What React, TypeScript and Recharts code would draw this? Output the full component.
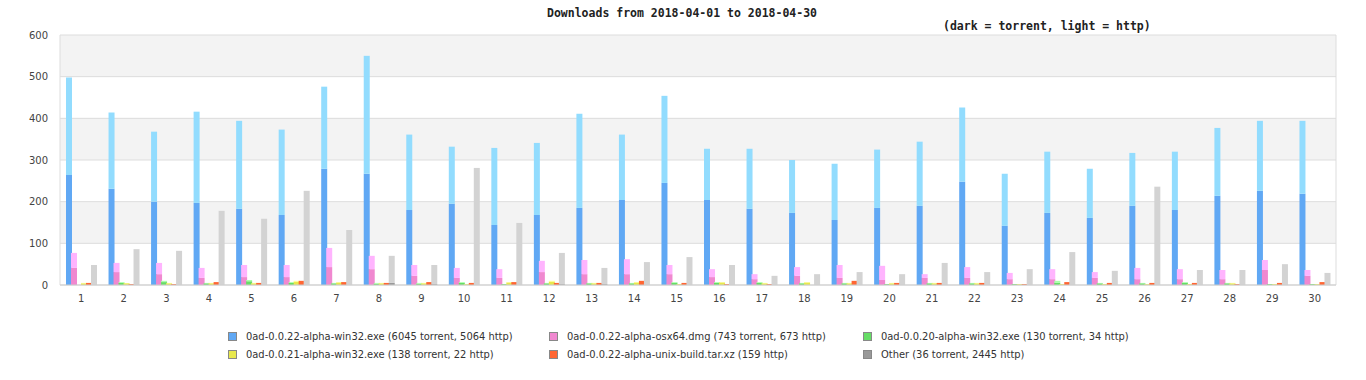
import { Bar, BarChart, CartesianGrid, XAxis, YAxis } from 'recharts'

const days = Array.from({ length: 30 }, (_, i) => String(i + 1))

const blueT = [264, 231, 200, 197, 183, 168, 279, 267, 180, 195, 144, 168, 185, 204, 245, 204, 183, 173, 156, 185, 190, 248, 142, 173, 161, 190, 180, 214, 226, 219]
const blueH = [234, 183, 168, 219, 211, 205, 197, 283, 181, 137, 185, 173, 226, 157, 209, 123, 144, 127, 135, 140, 154, 178, 125, 147, 118, 127, 140, 163, 168, 175]
const pinkT = [41, 31, 26, 17, 19, 19, 43, 38, 22, 17, 17, 31, 26, 26, 26, 19, 14, 22, 17, 12, 17, 17, 14, 14, 17, 14, 14, 14, 36, 22]
const pinkH = [36, 22, 27, 24, 29, 29, 46, 32, 26, 24, 21, 27, 34, 36, 22, 19, 12, 21, 31, 34, 9, 26, 15, 24, 14, 27, 24, 22, 24, 14]
const greenT = [0, 5, 7, 4, 9, 5, 4, 3, 3, 5, 2, 4, 4, 4, 5, 5, 5, 4, 4, 2, 4, 4, 2, 5, 4, 4, 5, 4, 2, 2]
const greenH = [0, 2, 3, 1, 3, 2, 1, 2, 2, 2, 0, 1, 1, 1, 2, 2, 2, 1, 1, 0, 1, 1, 0, 5, 1, 1, 2, 1, 0, 0]
const yellowT = [4, 4, 4, 4, 4, 8, 6, 4, 4, 2, 6, 8, 4, 6, 2, 6, 4, 6, 4, 4, 4, 4, 2, 2, 2, 2, 2, 4, 2, 2]
const yellowH = [1, 1, 1, 1, 1, 2, 1, 1, 1, 0, 1, 2, 1, 1, 0, 1, 1, 1, 1, 1, 1, 1, 0, 0, 0, 0, 0, 1, 0, 0]
const orangeH = [5, 2, 2, 7, 5, 10, 7, 5, 7, 5, 7, 5, 5, 10, 5, 2, 2, 0, 10, 5, 5, 5, 2, 7, 5, 5, 5, 2, 5, 7]
const grayT = [0, 0, 0, 0, 0, 0, 0, 5, 2, 0, 0, 2, 2, 0, 0, 0, 0, 0, 0, 0, 0, 0, 0, 0, 0, 0, 0, 0, 0, 0]
const grayH = [48, 86, 82, 178, 159, 226, 132, 65, 46, 281, 149, 75, 39, 55, 67, 48, 22, 26, 31, 26, 53, 31, 38, 79, 34, 236, 36, 36, 50, 29]

const yTicks = [0, 100, 200, 300, 400, 500, 600]

const series = [
  { key: 'blue', label: '0ad-0.0.22-alpha-win32.exe (6045 torrent, 5064 http)', t: blueT, h: blueH, dark: '#60a8f4', light: '#92dcfe' },
  { key: 'pink', label: '0ad-0.0.22-alpha-osx64.dmg (743 torrent, 673 http)', t: pinkT, h: pinkH, dark: '#f088d0', light: '#ffb4fe' },
  { key: 'green', label: '0ad-0.0.20-alpha-win32.exe (130 torrent, 34 http)', t: greenT, h: greenH, dark: '#66dd66', light: '#aaffaa' },
  { key: 'yellow', label: '0ad-0.0.21-alpha-win32.exe (138 torrent, 22 http)', t: yellowT, h: yellowH, dark: '#e8e84e', light: '#ffff88' },
  { key: 'orange', label: '0ad-0.0.22-alpha-unix-build.tar.xz (159 http)', t: days.map(() => 0), h: orangeH, dark: '#ff6633', light: '#ff6633' },
  { key: 'gray', label: 'Other (36 torrent, 2445 http)', t: grayT, h: grayH, dark: '#999999', light: '#d3d3d3' },
]

const data = days.map((d, i) => {
  const row: { [k: string]: string | number } = { day: d }
  series.forEach((s) => {
    row[s.key + 'T'] = s.t[i]
    row[s.key + 'H'] = s.h[i]
  })
  return row
})

const legendCols = [228, 549, 863]
const legendRows = [336, 354]

const tickStyle = { fill: '#444', fontSize: 10, fontFamily: 'DejaVu Sans' }

export default function App() {
  return (
    <div style={{ position: 'absolute', left: 0, top: 0, width: 1366, height: 380, background: '#fff' }}>
      <div
        style={{
          position: 'absolute',
          left: 547,
          top: 6,
          fontFamily: 'DejaVu Sans Mono',
          fontWeight: 'bold',
          fontSize: 11.5,
          lineHeight: '14px',
          color: '#222',
          whiteSpace: 'nowrap',
        }}
      >
        Downloads from 2018-04-01 to 2018-04-30
      </div>
      <div
        style={{
          position: 'absolute',
          left: 943,
          top: 19,
          fontFamily: 'DejaVu Sans Mono',
          fontWeight: 'bold',
          fontSize: 11.5,
          lineHeight: '14px',
          color: '#222',
          whiteSpace: 'nowrap',
        }}
      >
        (dark = torrent, light = http)
      </div>
      <BarChart
        width={1366}
        height={380}
        data={data}
        margin={{ top: 35, right: 30, left: 10, bottom: 75 }}
        barSize={6}
        barGap={-1}
      >
        <CartesianGrid
          stroke="#dddddd"
          horizontalFill={['#f3f3f3', '#ffffff']}
          fillOpacity={1}
          verticalCoordinatesGenerator={({ offset }: any) => [offset.left, offset.left + offset.width]}
        />
        <XAxis
          dataKey="day"
          axisLine={{ stroke: '#cccccc' }}
          tickLine={false}
          tick={tickStyle}
          height={20}
          tickMargin={4}
        />
        <YAxis
          width={50}
          domain={[0, 600]}
          ticks={yTicks}
          axisLine={false}
          tickLine={false}
          tick={tickStyle}
          tickMargin={6}
        />
        {series.flatMap((s) => [
          <Bar key={s.key + 'T'} dataKey={s.key + 'T'} stackId={s.key} fill={s.dark} isAnimationActive={false} />,
          <Bar key={s.key + 'H'} dataKey={s.key + 'H'} stackId={s.key} fill={s.light} isAnimationActive={false} />,
        ])}
      </BarChart>
      {series.map((s, i) => (
        <div
          key={s.key}
          style={{
            position: 'absolute',
            left: legendCols[i % 3],
            top: legendRows[Math.floor(i / 3)] - 7,
            height: 14,
            display: 'flex',
            alignItems: 'center',
            fontFamily: 'DejaVu Sans Condensed, DejaVu Sans',
            fontStretch: 'condensed',
            fontSize: 11,
            color: '#333',
            whiteSpace: 'nowrap',
          }}
        >
          <span
            style={{
              display: 'inline-block',
              width: 7,
              height: 7,
              background: s.dark,
              border: '1px solid #888',
              marginRight: 9,
            }}
          />
          {s.label}
        </div>
      ))}
    </div>
  )
}
